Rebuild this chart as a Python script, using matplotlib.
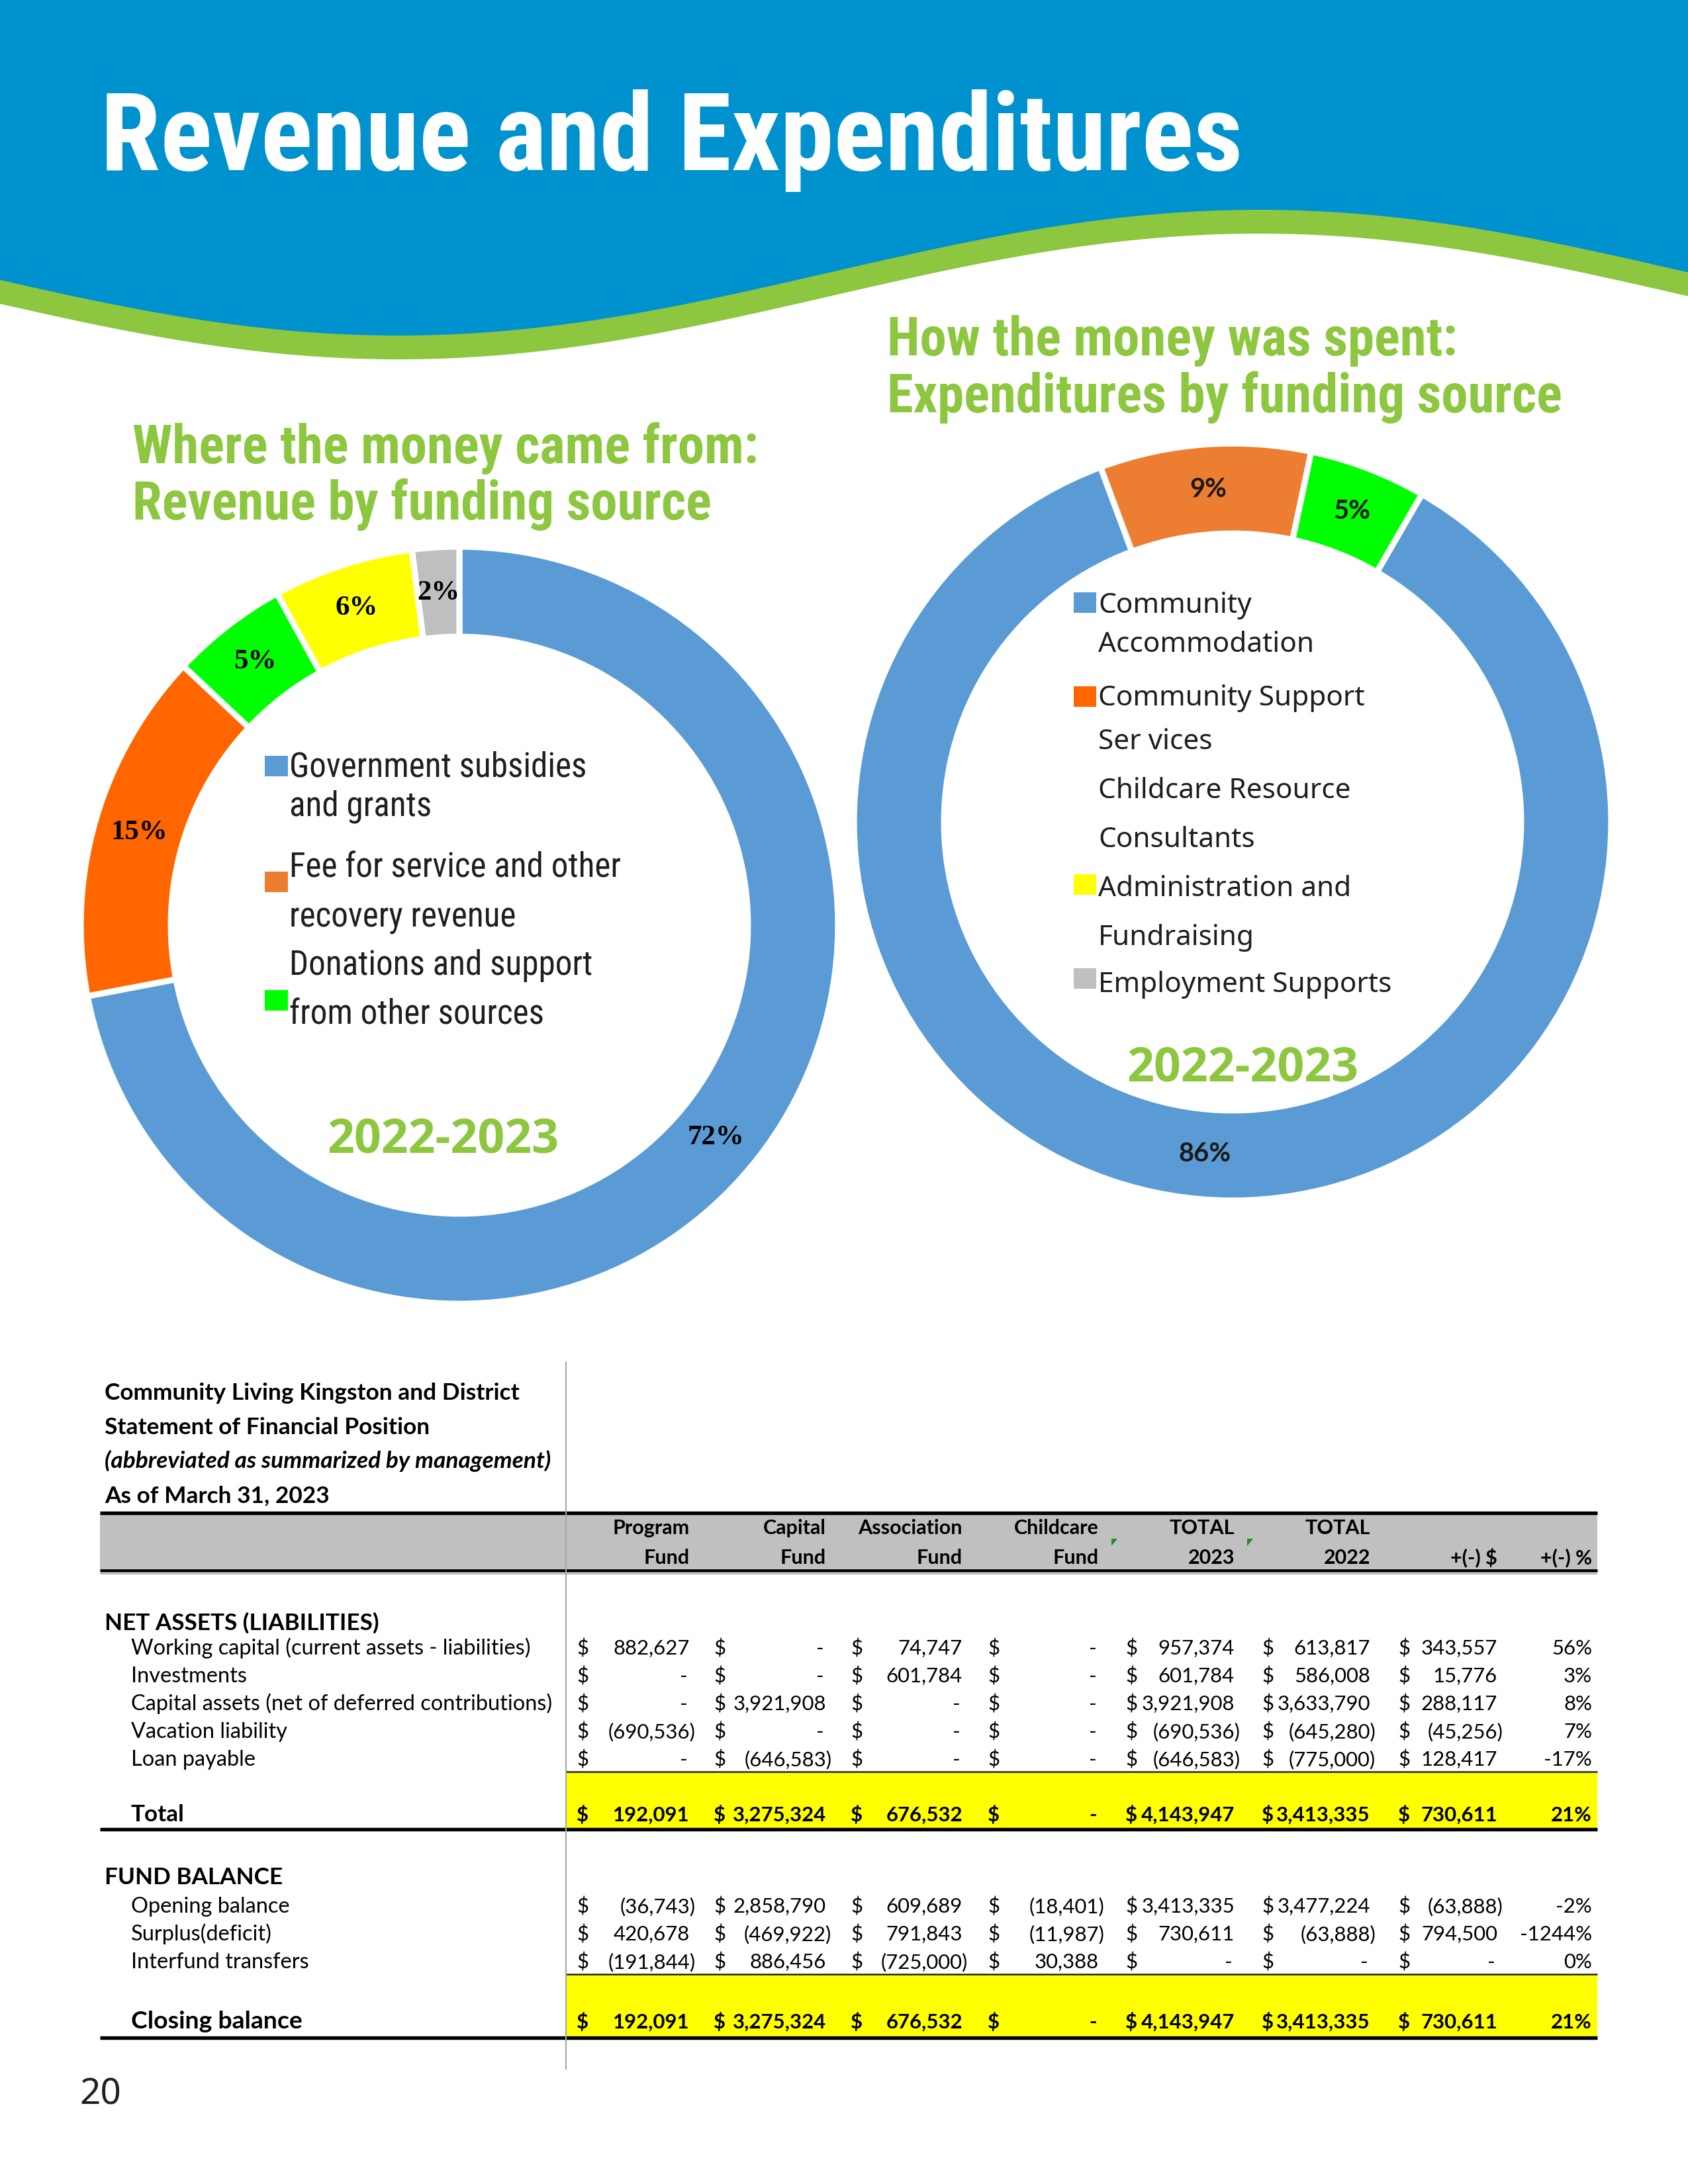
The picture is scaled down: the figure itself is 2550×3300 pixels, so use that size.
import matplotlib
matplotlib.use('Agg')
import matplotlib.pyplot as plt
import numpy as np
from matplotlib import font_manager as fm
from matplotlib.patches import Rectangle, Polygon

# ------------------------------------------------------------------ data
page_title = "Revenue and Expenditures"
revenue_heading = ["Where the money came from:", "Revenue by funding source"]
expense_heading = ["How the money was spent:", "Expenditures by funding source"]
year_label = "2022-2023"

revenue_shares = [72, 15, 5, 6, 2]
revenue_colors = ['#5B9BD5', '#FF6600', '#00FF00', '#FFFF00', '#BFBFBF']
revenue_legend_lines = ["Government subsidies", "and grants",
                        "Fee for service and other", "recovery revenue",
                        "Donations and support", "from other sources"]
revenue_marker_colors = ['#5B9BD5', '#ED7D31', '#00FF00']

expense_categories = ["Community Accommodation", "Community Support Services",
                      "Childcare Resource Consultants", "Administration and Fundraising",
                      "Employment Supports"]
expense_shares = [86, 9, 5, 0, 0]
expense_colors = ['#5B9BD5', '#ED7D31', '#00FF00', '#FFFF00', '#BFBFBF']
expense_legend_lines = ["Community", "Accommodation", "Community Support", "Ser vices",
                        "Childcare Resource", "Consultants", "Administration and",
                        "Fundraising", "Employment Supports"]
expense_marker_colors = ['#5B9BD5', '#FF6600', '#FFFF00', '#BFBFBF']

table_title = ["Community Living Kingston and District",
               "Statement of Financial Position",
               "(abbreviated as summarized by management)",
               "As of March 31, 2023"]
col_head_top = ["Program", "Capital", "Association", "Childcare", "TOTAL", "TOTAL", "", ""]
col_head_bot = ["Fund", "Fund", "Fund", "Fund", "2023", "2022", "+(-) $", "+(-) %"]

net_labels = ["Working capital (current assets - liabilities)", "Investments",
              "Capital assets (net of deferred contributions)", "Vacation liability",
              "Loan payable"]
working_capital = [882627, 0, 74747, 0, 957374, 613817, 343557]
investments = [0, 0, 601784, 0, 601784, 586008, 15776]
capital_assets = [0, 3921908, 0, 0, 3921908, 3633790, 288117]
vacation_liability = [-690536, 0, 0, 0, -690536, -645280, -45256]
loan_payable = [0, -646583, 0, 0, -646583, -775000, 128417]
net_pct = [56, 3, 8, 7, -17]
net_total = [192091, 3275324, 676532, 0, 4143947, 3413335, 730611]
net_total_pct = 21

fund_labels = ["Opening balance", "Surplus(deficit)", "Interfund transfers"]
opening_balance = [-36743, 2858790, 609689, -18401, 3413335, 3477224, -63888]
surplus_deficit = [420678, -469922, 791843, -11987, 730611, -63888, 794500]
interfund_transfers = [-191844, 886456, -725000, 30388, 0, 0, 0]
fund_pct = [-2, -1244, 0]
closing_balance = [192091, 3275324, 676532, 0, 4143947, 3413335, 730611]
closing_pct = 21
page_number = "20"

# ------------------------------------------------------------------ fonts
entries = fm.fontManager.ttflist
names = {f.name for f in entries}
NARROW = None
for c in ['Liberation Sans Narrow', 'Roboto Condensed', 'Noto Sans Condensed',
          'Open Sans Condensed', 'Fira Sans Condensed']:
    if c in names:
        NARROW = {'family': c}
        break
if NARROW is None:
    for fam in ['Noto Sans', 'Open Sans', 'Roboto', 'DejaVu Sans']:
        if any(f.name == fam and f.stretch in ('condensed', 'semi-condensed', 'extra-condensed')
               for f in entries):
            NARROW = {'family': fam, 'stretch': 'condensed'}
            break
if NARROW is None:
    NARROW = {'family': 'Roboto'}
SANS = {'family': 'Noto Sans'}
YEARF = {'family': 'Open Sans'}
TABLE = {'family': 'Lato'}
SERIF = {'family': 'Liberation Serif'}

GREEN = '#8DC63F'
BLUE = '#0092CF'
INK = '#1E1E1E'

W, H = 2550, 3300
fig = plt.figure(figsize=(8.5, 11), dpi=300)
fig.patch.set_facecolor('white')
ax = fig.add_axes([0, 0, 1, 1], zorder=2)
ax.set_xlim(0, W)
ax.set_ylim(H, 0)
ax.axis('off')
ax.patch.set_visible(False)
renderer = fig.canvas.get_renderer()


def fit(s, target, **kw):
    t = ax.text(0, 0, s, fontsize=20, **kw)
    w = t.get_window_extent(renderer).width
    t.remove()
    return 20.0 * target / w


def txt(x, y, s, fs, **kw):
    kw.setdefault('va', 'baseline')
    return ax.text(x, y, s, fontsize=fs, **kw)


# ------------------------------------------------------------------ banner
xs = np.linspace(0, W, 800)
wave = 413 + 95 * np.cos(2 * np.pi * (xs - 602) / 2600)
ax.fill_between(xs, 0, wave, color=BLUE, lw=0, zorder=1)
ax.fill_between(xs, wave - 1, wave + 35, color=GREEN, lw=0, zorder=1)

fs_title = fit(page_title, 1727, fontweight='bold', **NARROW)
txt(152, 257, page_title, fs_title, color='white', fontweight='bold', **NARROW)

fs_head = fit(expense_heading[1], 1020, fontweight='bold', **NARROW)
txt(200, 700, revenue_heading[0], fs_head, color=GREEN, fontweight='bold', **NARROW)
txt(200, 785, revenue_heading[1], fs_head, color=GREEN, fontweight='bold', **NARROW)
txt(1340, 537, expense_heading[0], fs_head, color=GREEN, fontweight='bold', **NARROW)
txt(1340, 623, expense_heading[1], fs_head, color=GREEN, fontweight='bold', **NARROW)


# ------------------------------------------------------------------ donuts
def donut(cx, cy, R, values, colors, startangle, pctprops):
    pax = fig.add_axes([(cx - R) / W, (H - cy - R) / H, 2 * R / W, 2 * R / H], zorder=1)
    vals = [v for v in values if v > 0]
    cols = [c for v, c in zip(values, colors) if v > 0]
    pax.pie(vals, colors=cols, startangle=startangle, counterclock=False, radius=1,
            autopct='%.0f%%', pctdistance=0.88,
            wedgeprops=dict(width=0.238, edgecolor='white', linewidth=2.2),
            textprops=pctprops)
    pax.set_xlim(-1, 1)
    pax.set_ylim(-1, 1)
    pax.set_aspect('auto')
    pax.axis('off')
    return pax


donut(694, 1398, 572, revenue_shares, revenue_colors, 90,
      dict(fontsize=10.3, fontweight='bold', color='black', **SERIF))
donut(1862, 1242, 572, expense_shares, expense_colors, 60,
      dict(fontsize=9.6, fontweight='bold', color='#1A1A1A', family='Lato'))

# revenue legend
fs_leg1 = fit(revenue_legend_lines[2], 501, **NARROW)
for s, y in zip(revenue_legend_lines, [1174, 1233, 1326, 1400, 1473, 1547]):
    txt(437, y, s, fs_leg1, color=INK, **NARROW)
for c, y0 in zip(revenue_marker_colors, [1142, 1317, 1496]):
    ax.add_patch(Rectangle((400, y0), 35, 31, color=c, lw=0, zorder=3))

fs_year = fit(year_label, 351, fontweight='bold', **YEARF)
txt(669, 1742, year_label, fs_year, color=GREEN, fontweight='bold', ha='center', **YEARF)

# expenditure legend
fs_leg2 = fit(expense_legend_lines[-1], 444, **SANS)
for s, y in zip(expense_legend_lines, [926, 985, 1066, 1132, 1206, 1280, 1354, 1428, 1499]):
    txt(1659, y, s, fs_leg2, color=INK, **SANS)
for c, y0 in zip(expense_marker_colors, [895, 1037, 1321, 1463]):
    ax.add_patch(Rectangle((1622, y0), 34, 31, color=c, lw=0, zorder=3))
txt(1877, 1634, year_label, fs_year, color=GREEN, fontweight='bold', ha='center', **YEARF)

# ------------------------------------------------------------------ table
LEFT, RIGHT, VLINE = 151, 2413, 855
cols_right = [1042, 1248, 1454, 1660, 1865, 2070, 2262]
dollar_x = [871, 1078, 1285, 1492, 1700, 1906, 2112]
pct_right = 2405

fs_ttl = fit(table_title[0], 626, fontweight='bold', **TABLE)
fs_lab = min(fit(net_labels[0], 622, **TABLE), fit(net_labels[2], 636, **TABLE))
fs_num = fit("3,921,908", 141, **TABLE)
fs_colh = fit("Association", 157, fontweight='bold', **TABLE)

for i, (s, y) in enumerate(zip(table_title, [2115, 2167, 2218, 2270])):
    txt(158, y, s, fs_ttl, fontweight='bold', style='italic' if i == 2 else 'normal',
        color='black', **TABLE)

# header band
ax.add_patch(Rectangle((LEFT, 2287), RIGHT - LEFT, 86, facecolor='#C0C0C0', lw=0, zorder=1))
ax.plot([LEFT, RIGHT], [2286, 2286], color='black', lw=1.3, solid_capstyle='butt', zorder=3)
ax.plot([LEFT, RIGHT], [2373, 2373], color='black', lw=1.1, solid_capstyle='butt', zorder=3)
ax.plot([LEFT, RIGHT], [2378, 2378], color='#A0A0A0', lw=0.4, solid_capstyle='butt', zorder=3)
heads_right = cols_right + [pct_right]
for xr, a, b in zip(heads_right, col_head_top, col_head_bot):
    if a:
        txt(xr, 2318, a, fs_colh, fontweight='bold', ha='right', **TABLE)
    txt(xr, 2363, b, fs_colh, fontweight='bold', ha='right', **TABLE)
for k in (3, 4):
    gx = cols_right[k] + 19
    ax.add_patch(Polygon([(gx, 2325), (gx + 9, 2325), (gx, 2336)], closed=True,
                         color='#1F8F1F', lw=0, zorder=3))

# vertical separator
ax.plot([VLINE, VLINE], [2058, 3126], color='#A6A6A6', lw=0.5, zorder=4)

t_tmp = ax.text(0, 0, ")", fontsize=fs_num, **TABLE)
paren_px = t_tmp.get_window_extent(renderer).width
t_tmp.remove()


def acct(v):
    if v == 0:
        return "-"
    if v < 0:
        return "({:,})".format(-v)
    return "{:,}".format(v)


def value_row(y, vals, pct, bold=False):
    fw = 'bold' if bold else 'normal'
    for v, xd, xr in zip(vals, dollar_x, cols_right):
        txt(xd, y, "$", fs_num, fontweight=fw, ha='left', **TABLE)
        off = paren_px if v < 0 else (-3 if v == 0 else 0)
        txt(xr + off, y, acct(v), fs_num, fontweight=fw, ha='right', **TABLE)
    txt(pct_right, y, "{}%".format(pct), fs_num, fontweight=fw, ha='right', **TABLE)


# net assets
txt(158, 2463, "NET ASSETS (LIABILITIES)", fs_lab * 1.08, fontweight='bold', **TABLE)
net_rows = [working_capital, investments, capital_assets, vacation_liability, loan_payable]
for lab, vals, p, y in zip(net_labels, net_rows, net_pct, [2500, 2542, 2584, 2626, 2668]):
    txt(198, y, lab, fs_lab, **TABLE)
    value_row(y, vals, p)

ax.add_patch(Rectangle((VLINE, 2677), RIGHT - VLINE, 86, facecolor='#FFFF00', lw=0, zorder=1))
ax.plot([VLINE, RIGHT], [2677, 2677], color='#222222', lw=0.6, solid_capstyle='butt', zorder=3)
ax.plot([LEFT, RIGHT], [2764, 2764], color='black', lw=1.3, solid_capstyle='butt', zorder=3)
txt(198, 2752, "Total", fs_lab * 1.08, fontweight='bold', **TABLE)
value_row(2752, net_total, net_total_pct, bold=True)

# fund balance
txt(158, 2847, "FUND BALANCE", fs_lab * 1.08, fontweight='bold', **TABLE)
fund_rows = [opening_balance, surplus_deficit, interfund_transfers]
for lab, vals, p, y in zip(fund_labels, fund_rows, fund_pct, [2890, 2932, 2974]):
    txt(198, y, lab, fs_lab, **TABLE)
    value_row(y, vals, p)

ax.add_patch(Rectangle((VLINE, 2983), RIGHT - VLINE, 95, facecolor='#FFFF00', lw=0, zorder=1))
ax.plot([VLINE, RIGHT], [2983, 2983], color='#222222', lw=0.6, solid_capstyle='butt', zorder=3)
ax.plot([LEFT, RIGHT], [3079, 3079], color='black', lw=1.3, solid_capstyle='butt', zorder=3)
txt(198, 3065, "Closing balance", fs_lab * 1.15, fontweight='bold', **TABLE)
value_row(3065, closing_balance, closing_pct, bold=True)

# page number
fs_pg = fit(page_number, 63, **SANS)
txt(120, 3179, page_number, fs_pg, color='#231F20', **SANS)

fig.savefig('out.png', dpi=300, facecolor='white')
